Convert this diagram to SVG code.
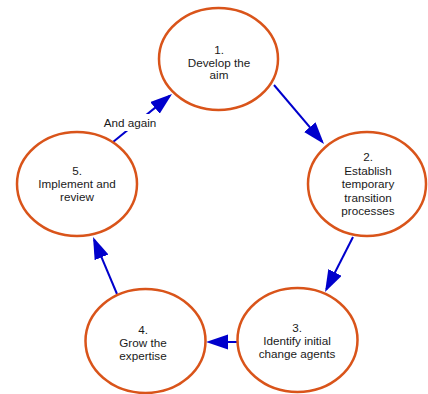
<svg xmlns="http://www.w3.org/2000/svg" width="428" height="394" viewBox="0 0 428 394">
<style>
.node{fill:#fff;stroke:#D9541A;stroke-width:2.5}
.lbl{font-family:"Liberation Sans",Arial,sans-serif;font-size:11.7px;fill:#1a1a1a;text-anchor:middle}
.edge{stroke:#0000CC;stroke-width:2;fill:none;marker-end:url(#ah)}
</style>
<defs>
<marker id="ah" markerUnits="userSpaceOnUse" markerWidth="24" markerHeight="16" refX="19" refY="7.5" orient="auto">
<path d="M0,0 L22,7.5 L0,15 z" fill="#0000CC"/>
</marker>
</defs>
<rect width="428" height="394" fill="#fff"/>
<g id="connectors">
<path class="edge" d="M274,85 L322.1,141.7"/>
<path class="edge" d="M353,237 L326.4,289.3"/>
<path class="edge" d="M237,342 L209,342"/>
<path class="edge" d="M117,294 L94.2,239.8"/>
<path class="edge" d="M113,142 L169.7,95.9"/>
<rect x="103" y="114" width="54" height="17" fill="#fff"/>
<text class="lbl" x="130" y="127">And again</text>
</g>
<g id="n1">
<ellipse class="node" cx="218.5" cy="59" rx="59.5" ry="51"/>
<text class="lbl" x="219" y="54">1.</text>
<text class="lbl" x="219" y="66.5">Develop the</text>
<text class="lbl" x="219" y="79">aim</text>
</g>
<g id="n2">
<ellipse class="node" cx="367" cy="184" rx="59" ry="52"/>
<text class="lbl" x="368" y="161">2.</text>
<text class="lbl" x="368" y="174.5">Establish</text>
<text class="lbl" x="368" y="188">temporary</text>
<text class="lbl" x="368" y="201.5">transition</text>
<text class="lbl" x="368" y="215">processes</text>
</g>
<g id="n3">
<ellipse class="node" cx="297.5" cy="340" rx="60" ry="52"/>
<text class="lbl" x="297" y="332">3.</text>
<text class="lbl" x="297" y="345">Identify initial</text>
<text class="lbl" x="297" y="358">change agents</text>
</g>
<g id="n4">
<ellipse class="node" cx="145.5" cy="341" rx="60" ry="52"/>
<text class="lbl" x="143" y="334">4.</text>
<text class="lbl" x="143" y="347">Grow the</text>
<text class="lbl" x="143" y="360">expertise</text>
</g>
<g id="n5">
<ellipse class="node" cx="77" cy="184" rx="60" ry="52"/>
<text class="lbl" x="77" y="175">5.</text>
<text class="lbl" x="77" y="188">Implement and</text>
<text class="lbl" x="77" y="201">review</text>
</g>
</svg>
